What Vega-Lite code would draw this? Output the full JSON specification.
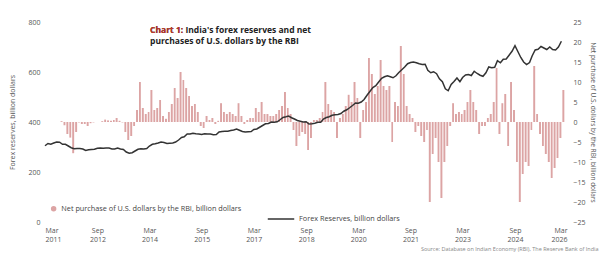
{
  "$schema": "https://vega.github.io/schema/vega-lite/v6.json",
  "width": 522,
  "height": 200,
  "autosize": {"type": "none"},
  "padding": {"left": 45, "top": 22, "right": 33, "bottom": 33},
  "background": "white",
  "config": {
    "view": {"stroke": null},
    "font": "Open Sans",
    "axis": {"labelFont": "Open Sans", "titleFont": "Open Sans", "labelFontSize": 7, "labelColor": "#555", "titleFontSize": 7, "titleFontWeight": "normal", "titleColor": "#555", "domain": false, "ticks": false, "grid": false},
    "legend": {"labelFont": "Open Sans", "labelFontSize": 7.3, "labelColor": "#444", "labelLimit": 0}
  },
  "title": {
    "text": ["Chart 1: India's forex reserves and net", "purchases of U.S. dollars by the RBI"],
    "subtitle": "Chart 1:",
    "anchor": "start",
    "frame": "group",
    "orient": "top",
    "offset": 0,
    "dx": 105,
    "dy": 27,
    "fontSize": 8.5,
    "fontWeight": "bold",
    "color": "#222",
    "subtitleFontSize": 8.5,
    "subtitleFontWeight": "bold",
    "subtitleColor": "#c0392b",
    "subtitlePadding": -19,
    "lineHeight": 10.5,
    "subtitleLineHeight": 10.5
  },
  "data": {"values": [
    {"d":"2011/03/01","r":305,"n":0},{"d":"2011/04/01","r":314,"n":0},{"d":"2011/05/01","r":311,"n":0},{"d":"2011/06/01","r":316,"n":0},{"d":"2011/07/01","r":320,"n":0},{"d":"2011/08/01","r":319,"n":0.2},{"d":"2011/09/01","r":311,"n":-0.8},{"d":"2011/10/01","r":311,"n":-3.0},{"d":"2011/11/01","r":304,"n":-3.9},{"d":"2011/12/01","r":297,"n":-7.8},
    {"d":"2012/01/01","r":293,"n":-2.5},{"d":"2012/02/01","r":294,"n":-0.1},{"d":"2012/03/01","r":294,"n":-0.5},{"d":"2012/04/01","r":292,"n":-0.5},{"d":"2012/05/01","r":286,"n":-1.0},{"d":"2012/06/01","r":289,"n":-0.3},{"d":"2012/07/01","r":290,"n":-0.1},{"d":"2012/08/01","r":291,"n":0},{"d":"2012/09/01","r":295,"n":0},{"d":"2012/10/01","r":296,"n":0.2},{"d":"2012/11/01","r":295,"n":0.6},{"d":"2012/12/01","r":296,"n":0.4},
    {"d":"2013/01/01","r":296,"n":0.3},{"d":"2013/02/01","r":292,"n":0.5},{"d":"2013/03/01","r":292,"n":1.0},{"d":"2013/04/01","r":296,"n":0.3},{"d":"2013/05/01","r":292,"n":-0.1},{"d":"2013/06/01","r":290,"n":-2.5},{"d":"2013/07/01","r":280,"n":-4.5},{"d":"2013/08/01","r":275,"n":-3.5},{"d":"2013/09/01","r":277,"n":-1.0},{"d":"2013/10/01","r":284,"n":3.0},{"d":"2013/11/01","r":291,"n":10.0},{"d":"2013/12/01","r":293,"n":3.5},
    {"d":"2014/01/01","r":292,"n":2.0},{"d":"2014/02/01","r":294,"n":2.5},{"d":"2014/03/01","r":304,"n":8.0},{"d":"2014/04/01","r":311,"n":3.0},{"d":"2014/05/01","r":313,"n":3.5},{"d":"2014/06/01","r":316,"n":5.5},{"d":"2014/07/01","r":320,"n":1.5},{"d":"2014/08/01","r":318,"n":0.8},{"d":"2014/09/01","r":314,"n":2.5},{"d":"2014/10/01","r":315,"n":4.5},{"d":"2014/11/01","r":316,"n":8.5},{"d":"2014/12/01","r":320,"n":6.0},
    {"d":"2015/01/01","r":328,"n":12.5},{"d":"2015/02/01","r":338,"n":10.5},{"d":"2015/03/01","r":341,"n":8.5},{"d":"2015/04/01","r":352,"n":6.5},{"d":"2015/05/01","r":352,"n":4.0},{"d":"2015/06/01","r":355,"n":4.5},{"d":"2015/07/01","r":353,"n":2.5},{"d":"2015/08/01","r":352,"n":-1.0},{"d":"2015/09/01","r":350,"n":-1.5},{"d":"2015/10/01","r":353,"n":1.5},{"d":"2015/11/01","r":352,"n":0.5},{"d":"2015/12/01","r":352,"n":1.0},
    {"d":"2016/01/01","r":349,"n":-0.5},{"d":"2016/02/01","r":350,"n":0.3},{"d":"2016/03/01","r":360,"n":4.7},{"d":"2016/04/01","r":362,"n":2.5},{"d":"2016/05/01","r":363,"n":2.0},{"d":"2016/06/01","r":363,"n":2.5},{"d":"2016/07/01","r":366,"n":2.0},{"d":"2016/08/01","r":368,"n":1.5},{"d":"2016/09/01","r":372,"n":4.7},{"d":"2016/10/01","r":367,"n":1.5},{"d":"2016/11/01","r":362,"n":-0.5},{"d":"2016/12/01","r":360,"n":0.5},
    {"d":"2017/01/01","r":361,"n":1.0},{"d":"2017/02/01","r":362,"n":1.0},{"d":"2017/03/01","r":370,"n":3.5},{"d":"2017/04/01","r":372,"n":2.5},{"d":"2017/05/01","r":379,"n":5.0},{"d":"2017/06/01","r":386,"n":2.0},{"d":"2017/07/01","r":393,"n":2.0},{"d":"2017/08/01","r":394,"n":1.5},{"d":"2017/09/01","r":400,"n":1.5},{"d":"2017/10/01","r":399,"n":2.0},{"d":"2017/11/01","r":401,"n":3.0},{"d":"2017/12/01","r":409,"n":4.0},
    {"d":"2018/01/01","r":418,"n":7.5},{"d":"2018/02/01","r":421,"n":3.5},{"d":"2018/03/01","r":424,"n":2.0},{"d":"2018/04/01","r":417,"n":-2.0},{"d":"2018/05/01","r":412,"n":-6.0},{"d":"2018/06/01","r":406,"n":-3.5},{"d":"2018/07/01","r":403,"n":-2.5},{"d":"2018/08/01","r":400,"n":-3.0},{"d":"2018/09/01","r":401,"n":-7.0},{"d":"2018/10/01","r":392,"n":-4.0},{"d":"2018/11/01","r":393,"n":0.5},{"d":"2018/12/01","r":395,"n":0.5},
    {"d":"2019/01/01","r":399,"n":1.0},{"d":"2019/02/01","r":399,"n":2.5},{"d":"2019/03/01","r":412,"n":10.0},{"d":"2019/04/01","r":418,"n":4.5},{"d":"2019/05/01","r":421,"n":3.0},{"d":"2019/06/01","r":427,"n":2.5},{"d":"2019/07/01","r":429,"n":-4.0},{"d":"2019/08/01","r":430,"n":1.0},{"d":"2019/09/01","r":434,"n":2.0},{"d":"2019/10/01","r":443,"n":4.0},{"d":"2019/11/01","r":449,"n":6.8},{"d":"2019/12/01","r":457,"n":5.0},
    {"d":"2020/01/01","r":466,"n":10.0},{"d":"2020/02/01","r":476,"n":6.0},{"d":"2020/03/01","r":475,"n":-4.0},{"d":"2020/04/01","r":480,"n":3.0},{"d":"2020/05/01","r":490,"n":5.0},{"d":"2020/06/01","r":507,"n":16.0},{"d":"2020/07/01","r":522,"n":12.0},{"d":"2020/08/01","r":538,"n":7.0},{"d":"2020/09/01","r":545,"n":9.0},{"d":"2020/10/01","r":560,"n":15.5},{"d":"2020/11/01","r":575,"n":9.0},{"d":"2020/12/01","r":581,"n":8.0},
    {"d":"2021/01/01","r":585,"n":9.0},{"d":"2021/02/01","r":581,"n":-5.0},{"d":"2021/03/01","r":577,"n":5.0},{"d":"2021/04/01","r":585,"n":4.0},{"d":"2021/05/01","r":598,"n":19.0},{"d":"2021/06/01","r":609,"n":12.0},{"d":"2021/07/01","r":620,"n":4.0},{"d":"2021/08/01","r":633,"n":2.0},{"d":"2021/09/01","r":638,"n":1.0},{"d":"2021/10/01","r":640,"n":-2.5},{"d":"2021/11/01","r":637,"n":-1.0},{"d":"2021/12/01","r":633,"n":-3.5},
    {"d":"2022/01/01","r":630,"n":-5.0},{"d":"2022/02/01","r":631,"n":-2.0},{"d":"2022/03/01","r":607,"n":-20.0},{"d":"2022/04/01","r":597,"n":-8.0},{"d":"2022/05/01","r":601,"n":-4.0},{"d":"2022/06/01","r":593,"n":-10.0},{"d":"2022/07/01","r":573,"n":-19.0},{"d":"2022/08/01","r":561,"n":-10.0},{"d":"2022/09/01","r":533,"n":-6.0},{"d":"2022/10/01","r":525,"n":-1.0},{"d":"2022/11/01","r":550,"n":4.7},{"d":"2022/12/01","r":562,"n":2.0},
    {"d":"2023/01/01","r":576,"n":2.5},{"d":"2023/02/01","r":561,"n":2.0},{"d":"2023/03/01","r":578,"n":3.0},{"d":"2023/04/01","r":588,"n":5.0},{"d":"2023/05/01","r":590,"n":8.0},{"d":"2023/06/01","r":586,"n":5.0},{"d":"2023/07/01","r":603,"n":3.0},{"d":"2023/08/01","r":594,"n":-3.0},{"d":"2023/09/01","r":587,"n":-1.0},{"d":"2023/10/01","r":583,"n":-1.0},{"d":"2023/11/01","r":597,"n":1.0},{"d":"2023/12/01","r":620,"n":2.0},
    {"d":"2024/01/01","r":617,"n":5.0},{"d":"2024/02/01","r":619,"n":13.5},{"d":"2024/03/01","r":645,"n":-3.0},{"d":"2024/04/01","r":637,"n":4.7},{"d":"2024/05/01","r":651,"n":7.0},{"d":"2024/06/01","r":652,"n":-6.0},{"d":"2024/07/01","r":667,"n":10.0},{"d":"2024/08/01","r":683,"n":3.0},{"d":"2024/09/01","r":705,"n":-10.0},{"d":"2024/10/01","r":682,"n":-20.0},{"d":"2024/11/01","r":658,"n":-13.0},{"d":"2024/12/01","r":640,"n":-10.0},
    {"d":"2025/01/01","r":630,"n":-11.0},{"d":"2025/02/01","r":638,"n":-2.0},{"d":"2025/03/01","r":665,"n":14.0},{"d":"2025/04/01","r":688,"n":2.0},{"d":"2025/05/01","r":691,"n":-3.0},{"d":"2025/06/01","r":702,"n":-6.0},{"d":"2025/07/01","r":696,"n":-8.0},{"d":"2025/08/01","r":690,"n":-10.0},{"d":"2025/09/01","r":700,"n":-14.0},{"d":"2025/10/01","r":690,"n":-11.5},{"d":"2025/11/01","r":688,"n":-9.0},{"d":"2025/12/01","r":700,"n":-4.0},
    {"d":"2026/01/01","r":723,"n":8.0}
  ]},
  "encoding": {
    "x": {
      "field": "d", "type": "temporal", "timeUnit": "yearmonth",
      "scale": {"domain": [{"year": 2011, "month": 3, "date": 1}, {"year": 2026, "month": 3, "date": 1}]},
      "axis": {
        "values": [{"year":2011,"month":3,"date":1},{"year":2012,"month":9,"date":1},{"year":2014,"month":3,"date":1},{"year":2015,"month":9,"date":1},{"year":2017,"month":3,"date":1},{"year":2018,"month":9,"date":1},{"year":2020,"month":3,"date":1},{"year":2021,"month":9,"date":1},{"year":2023,"month":3,"date":1},{"year":2024,"month":9,"date":1},{"year":2026,"month":3,"date":1}],
        "labelExpr": "[timeFormat(datum.value, '%b'), timeFormat(datum.value, '%Y')]",
        "labelPadding": 4,
        "labelLineHeight": 9,
        "title": "Source: Database on Indian Economy (RBI), The Reserve Bank of India",
        "titleFontSize": 5.5,
        "titleColor": "#888",
        "titleAlign": "right",
        "titleAnchor": "end",
        "titleX": 553,
        "titleY": 24
      }
    }
  },
  "layer": [
    {
      "mark": {"type": "bar", "color": "#dca4a4"},
      "encoding": {
        "y": {"field": "n", "type": "quantitative", "scale": {"domain": [-25, 25]},
          "axis": {"orient": "right", "values": [-25,-20,-15,-10,-5,0,5,10,15,20,25], "title": "Net purchase of U.S. dollars by the RBI, billion dollars", "labelPadding": 6, "titlePadding": 4, "titleFontSize": 6.5}},
        "fill": {"datum": "Net purchase of U.S. dollars by the RBI, billion dollars", "type": "nominal",
          "scale": {"range": ["#dca4a4"]},
          "legend": {"title": null, "orient": "none", "legendX": 5, "legendY": 183, "symbolType": "circle", "symbolSize": 30, "symbolFillColor": "#555", "labelLimit": 0}}
      }
    },
    {
      "mark": {"type": "line", "strokeWidth": 1.5},
      "encoding": {
        "y": {"field": "r", "type": "quantitative", "scale": {"domain": [0, 800]},
          "axis": {"orient": "left", "values": [0,200,400,600,800], "title": "Forex reserves, billion dollars", "labelPadding": 5, "titlePadding": 12}},
        "stroke": {"datum": "Forex Reserves, billion dollars", "type": "nominal",
          "scale": {"range": ["#333333"]},
          "legend": {"title": null, "orient": "none", "legendX": 222, "legendY": 183, "symbolType": "stroke", "symbolSize": 700, "symbolStrokeWidth": 1.5, "labelLimit": 0}}
      }
    }
  ],
  "resolve": {"scale": {"y": "independent", "fill": "independent", "stroke": "independent"}}
}
